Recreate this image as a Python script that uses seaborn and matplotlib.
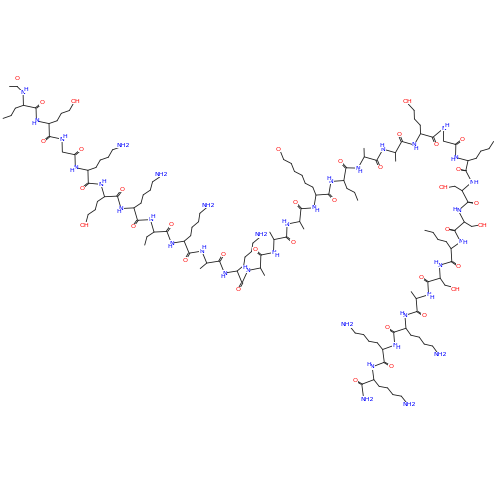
import numpy as np
import matplotlib
matplotlib.use("Agg")
import matplotlib.pyplot as plt
import seaborn as sns

# peptide sequence (N-term acetyl ... C-term amide)
residues = ["L","E","G","R","E","K","V","R","A","K","A","A","A","K(Ac)","I",
            "A","A","E","G","Nle","S","T","W","S","A","R","K","K"]
sidechain_len = {"G":0,"A":1,"S":2,"T":2,"V":2,"L":3,"I":3,"E":4,"K":5,"R":5,
                 "K(Ac)":7,"Nle":4,"W":4}
sidechain_end = {"E":"OH","K":"NH2","R":"NH2","S":"OH","T":"OH","K(Ac)":"O"}
waypoints_x = [20,95,165,245,300,355,440,470,455,420,390,360]
waypoints_y = [95,185,235,280,215,165,130,170,250,300,345,395]

sns.set_theme(style="white")
fig = plt.figure(figsize=(5,5), dpi=100)
ax = fig.add_axes([0,0,1,1])
ax.set_xlim(0,500); ax.set_ylim(500,0); ax.axis("off")

P = np.array(list(zip(waypoints_x, waypoints_y)), float)
seg = np.linalg.norm(np.diff(P,axis=0),axis=1)
cum = np.concatenate([[0],np.cumsum(seg)])
n_atoms = len(residues)*3 + 1
ts = np.linspace(0, cum[-1], n_atoms)
def at(t):
    i = min(np.searchsorted(cum,t,side="right")-1, len(seg)-1)
    f = (t-cum[i])/seg[i]
    d = (P[i+1]-P[i])/seg[i]
    return P[i]+f*(P[i+1]-P[i]), d
pts=[]; dirs=[]
for k,t in enumerate(ts):
    p,d = at(t); nrm = np.array([-d[1],d[0]])
    pts.append(p + nrm*(4 if k%2 else -4)); dirs.append(nrm*(1 if k%2 else -1))
pts=np.array(pts)
lw=0.6
def lab(p,s,c):
    ax.text(p[0],p[1],s,color=c,fontsize=4.5,ha="center",va="center",
            bbox=dict(fc="white",ec="none",pad=0.2))
# acetyl cap
cap = pts[0]+np.array([-6,-6]); ax.plot([cap[0],pts[0][0]],[cap[1],pts[0][1]],c="k",lw=lw)
ax.plot([cap[0],cap[0]-8],[cap[1],cap[1]],c="k",lw=lw); lab(cap+np.array([0,-8]),"O","red")
ax.plot(pts[:,0],pts[:,1],c="k",lw=lw)
for r,name in enumerate(residues):
    iN,iCA,iC = 3*r,3*r+1,3*r+2
    lab(pts[iN],"N","blue"); lab(pts[iN]+dirs[iN]*4,"H","blue")
    # carbonyl
    o = pts[iC]+dirs[iC]*8
    for off in (-0.8,0.8):
        ax.plot([pts[iC][0]+off,o[0]+off],[pts[iC][1],o[1]],c="k",lw=lw)
    lab(o,"O","red")
    # side chain
    L = sidechain_len.get(name,2); p = pts[iCA].copy(); d = dirs[iCA]
    for j in range(L):
        q = p + d*8 + np.array([d[1],-d[0]])*(3 if j%2 else -3)
        ax.plot([p[0],q[0]],[p[1],q[1]],c="k",lw=lw); p=q
    if name in sidechain_end and L:
        lab(p+d*3, sidechain_end[name], "blue" if "N" in sidechain_end[name] else "red")
end = pts[-1]
lab(end+dirs[-1]*4,"NH2","blue")
fig.savefig("out.png",dpi=100)
